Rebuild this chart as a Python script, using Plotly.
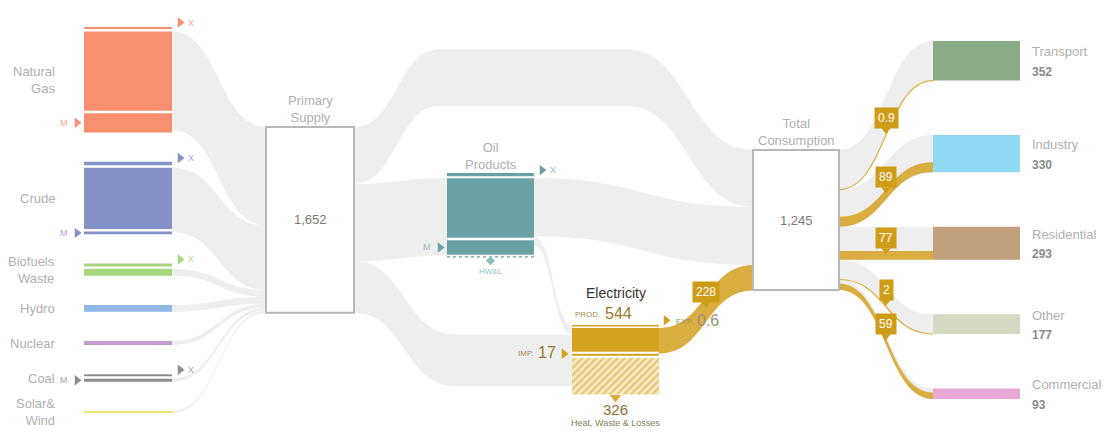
import plotly.graph_objects as go

# ---------------- data ----------------
source_names = ["Natural<br>Gas", "Crude", "Biofuels<br>Waste", "Hydro", "Nuclear", "Coal", "Solar&<br>Wind"]
source_production = [705, 545, 62, 61, 35, 0, 17]
source_imports = [172, 26, 0, 0, 0, 28, 0]
source_exports = [18, 32, 25, 0, 0, 14, 0]

primary_supply = 1652
ps_to_consumption = 505
ps_to_oil = 687
ps_to_electricity = 460

oil_production = 530
oil_imports = 130
oil_exports = 28
oil_to_consumption = 517
oil_to_electricity = 84

elec_production = 544
elec_imports = 17
elec_exports = 0.6
elec_to_consumption = 228
elec_losses = 326

total_consumption = 1245
sector_names = ["Transport", "Industry", "Residential", "Other", "Commercial"]
sector_totals = [352, 330, 293, 177, 93]
sector_electricity = [0.9, 89, 77, 2, 59]

# ---------------- styling / layout constants ----------------
W, H = 1116, 433
K = 0.1125  # pixels per unit
FONT = "Liberation Sans, Arial, sans-serif"
LABEL_GRAY = "#b0b0b0"
BAND_GRAY = "rgba(200,200,200,0.30)"
BOX_LINE = "#b8b8b8"
GOLD = "#d4a21c"
GOLD_FLOW = "#d9ad3f"
GOLD_LABEL = "#cf9c17"
TEAL = "#6aa1a5"
TEAL_TXT = "#8dbfc2"

source_colors = ["#f8906f", "#8591c9", "#a6d67d", "#8fb7e7", "#c59bd1", "#8e8e8e", "#eee36c"]
source_text_colors = ["#f6a88f", "#a0abd8", "#b9e09a", "#a9c8ee", "#d4b4dd", "#a5a5a5", "#f0e78c"]
sector_colors = ["#89ab86", "#8fd9f2", "#c1a07b", "#d6d9c2", "#e9a7d5"]

SRC_X0, SRC_X1 = 84, 172
PS_X0, PS_X1 = 266, 354
OP_X0, OP_X1 = 447, 534
EL_X0, EL_X1 = 572, 659
TC_X0, TC_X1 = 753, 839
SEC_X0, SEC_X1 = 933, 1020
SRC_TOP, SRC_BOTTOM = 27, 413
PS_TOP = 127
OP_TOP = 173
EL_TOP = 325
TC_TOP = 150
SEC_TOP, SEC_GAP = 41, 54.5
ROUTE_TOP = 49
SEG_GAP = 2.4
MIN_T = 2.0

fig = go.Figure()
shapes = []
annotations = []


def band_path(pts):
    x0, t0, b0 = pts[0]
    d = f"M{x0:.2f},{t0:.2f}"
    for (xa, ta, _), (xb, tb, _) in zip(pts[:-1], pts[1:]):
        xm = (xa + xb) / 2
        d += f" C{xm:.2f},{ta:.2f} {xm:.2f},{tb:.2f} {xb:.2f},{tb:.2f}"
    xn, tn, bn = pts[-1]
    d += f" L{xn:.2f},{bn:.2f}"
    rev = pts[::-1]
    for (xa, _, ba), (xb, _, bb) in zip(rev[:-1], rev[1:]):
        xm = (xa + xb) / 2
        d += f" C{xm:.2f},{ba:.2f} {xm:.2f},{bb:.2f} {xb:.2f},{bb:.2f}"
    return d + " Z"


def add_flow(pts, color):
    thick = pts[0][2] - pts[0][1]
    if thick < 1.6:
        c = [(x, (t + b) / 2) for x, t, b in pts]
        d = f"M{c[0][0]:.2f},{c[0][1]:.2f}"
        for (xa, ya), (xb, yb) in zip(c[:-1], c[1:]):
            xm = (xa + xb) / 2
            d += f" C{xm:.2f},{ya:.2f} {xm:.2f},{yb:.2f} {xb:.2f},{yb:.2f}"
        shapes.append(dict(type="path", path=d, xref="x", yref="y", layer="below",
                           line=dict(color=color, width=max(thick, 1.2)), fillcolor="rgba(0,0,0,0)"))
    else:
        shapes.append(dict(type="path", path=band_path(pts), xref="x", yref="y", layer="below",
                           line=dict(width=0), fillcolor=color))


def rect(x0, y0, x1, y1, fill, line=None, lw=0):
    shapes.append(dict(type="rect", x0=x0, x1=x1, y0=y0, y1=y1, xref="x", yref="y", layer="below",
                       fillcolor=fill, line=dict(color=line or fill, width=lw)))


def text(x, y, s, size=13, color=LABEL_GRAY, xanchor="center", align="center", bold=False):
    if bold:
        s = f"<b>{s}</b>"
    annotations.append(dict(x=x, y=y, xref="x", yref="y", text=s, showarrow=False,
                            font=dict(size=size, color=color, family=FONT),
                            xanchor=xanchor, yanchor="middle", align=align))


def marker(x, y, symbol, color, size=9):
    fig.add_trace(go.Scatter(x=[x], y=[y], mode="markers", hoverinfo="skip", showlegend=False,
                             marker=dict(symbol=symbol, color=color, size=size, line=dict(width=0))))


def gold_label(x, y, s):
    annotations.append(dict(x=x, y=y - 6, xref="x", yref="y", text=s, showarrow=False,
                            font=dict(size=12, color="white", family=FONT), bgcolor=GOLD_LABEL,
                            borderpad=3, xanchor="center", yanchor="bottom"))
    marker(x, y - 5, "triangle-down", GOLD_LABEL, 8)


# ---------------- sources ----------------
src_info = []
heights = []
for p, m, xv in zip(source_production, source_imports, source_exports):
    segs = [(k, v) for k, v in (("X", xv), ("P", p), ("M", m)) if v > 0]
    hs = [max(v * K, MIN_T) for _, v in segs]
    heights.append(sum(hs) + SEG_GAP * (len(hs) - 1))
    src_info.append((segs, hs))
src_gap = (SRC_BOTTOM - SRC_TOP - sum(heights)) / (len(heights) - 1)

y = SRC_TOP
ps_y = PS_TOP
src_geom = []
for i, (segs, hs) in enumerate(src_info):
    top = y
    cur = y
    seg_pos = {}
    for (kind, v), h in zip(segs, hs):
        seg_pos[kind] = (cur, cur + h)
        cur += h + SEG_GAP
    flow = source_production[i] + source_imports[i]
    ftop = seg_pos.get("P", seg_pos.get("M"))[0]
    fh = flow * K
    add_flow([(SRC_X1, ftop, ftop + fh), (PS_X0, ps_y, ps_y + fh)], BAND_GRAY)
    ps_y += fh
    src_geom.append((top, top + heights[i], seg_pos))
    y = top + heights[i] + src_gap

# primary supply outflows
ps_h = primary_supply * K
d_h = ps_to_consumption * K
o_h = ps_to_oil * K
e_h = ps_to_electricity * K
op_x_h = max(oil_exports * K, MIN_T)
op_main_top = OP_TOP + op_x_h + 2
op_main_h = oil_production * K
op_m_top = op_main_top + op_main_h + SEG_GAP
op_m_h = oil_imports * K
op_bottom = op_m_top + op_m_h

tc_h = total_consumption * K

# direct PS -> TC, routed over the oil products node
add_flow([(PS_X1, PS_TOP, PS_TOP + d_h),
          (440, ROUTE_TOP, ROUTE_TOP + d_h),
          (625, ROUTE_TOP, ROUTE_TOP + d_h),
          (TC_X0, TC_TOP, TC_TOP + d_h)], BAND_GRAY)
# PS -> Oil products
add_flow([(PS_X1, PS_TOP + d_h, PS_TOP + d_h + o_h),
          (OP_X0, op_main_top, op_main_top + o_h)], BAND_GRAY)
# Oil -> TC
ot_h = oil_to_consumption * K
add_flow([(OP_X1, op_main_top, op_main_top + ot_h),
          (TC_X0, TC_TOP + d_h, TC_TOP + d_h + ot_h)], BAND_GRAY)
# Oil -> Electricity
oe_h = oil_to_electricity * K
add_flow([(OP_X1, op_main_top + ot_h, op_main_top + ot_h + oe_h),
          (EL_X0, EL_TOP, EL_TOP + oe_h)], BAND_GRAY)
# PS -> Electricity
add_flow([(PS_X1, PS_TOP + d_h + o_h, PS_TOP + d_h + o_h + e_h),
          (455, EL_TOP + oe_h, EL_TOP + oe_h + e_h),
          (EL_X0, EL_TOP + oe_h, EL_TOP + oe_h + e_h)], BAND_GRAY)

# TC -> sectors (gray full band)
sec_geom = []
sy = SEC_TOP
ty = TC_TOP
for i, (tot, el) in enumerate(zip(sector_totals, sector_electricity)):
    h = tot * K
    add_flow([(TC_X1, ty, ty + h), (SEC_X0, sy, sy + h)], BAND_GRAY)
    sec_geom.append((sy, h, ty))
    ty += h
    sy += h + SEC_GAP

# Electricity -> TC (gold)
el_x_h = max(elec_exports * K, 1.5)
el_main_top = EL_TOP + el_x_h + 1.5
el_main_h = (elec_to_consumption - elec_imports) * K
el_imp_top = el_main_top + el_main_h + 2
el_imp_h = max(elec_imports * K, MIN_T)
el_loss_top = el_imp_top + el_imp_h + 2
el_loss_h = elec_losses * K
ec_h = elec_to_consumption * K
tc_e_top = TC_TOP + d_h + ot_h
add_flow([(EL_X1, el_main_top, el_main_top + ec_h), (TC_X0, tc_e_top, tc_e_top + ec_h)], GOLD_FLOW)

gold_mids = []
for i, (tot, el) in enumerate(zip(sector_totals, sector_electricity)):
    sy, h, ty0 = sec_geom[i]
    g = el * K
    a0 = ty0 + tot * K - g
    a1 = sy + h - g
    add_flow([(TC_X1, a0, a0 + g), (SEC_X0, a1, a1 + g)], GOLD_FLOW)
    gold_mids.append(((TC_X1 + SEC_X0) / 2, (a0 + a1 + g) / 2))

# ---------------- nodes ----------------
for i, (segs, hs) in enumerate(src_info):
    top, bot, seg_pos = src_geom[i]
    for kind, (y0, y1) in seg_pos.items():
        rect(SRC_X0, y0, SRC_X1, y1, source_colors[i])
    cy = (top + bot) / 2
    text(57, cy, source_names[i], 13, LABEL_GRAY, xanchor="right", align="right")
    if "X" in seg_pos:
        xc = sum(seg_pos["X"]) / 2 - 5.5
        marker(SRC_X1 + 8, xc, "triangle-right", source_colors[i], 9)
        text(SRC_X1 + 19, xc, "X", 9, source_text_colors[i])
    if "M" in seg_pos:
        mc = sum(seg_pos["M"]) / 2
        marker(SRC_X0 - 7, mc, "triangle-right", source_colors[i], 9)
        text(SRC_X0 - 20, mc, "M", 9, source_text_colors[i])

# primary supply box
rect(PS_X0, PS_TOP, PS_X1, PS_TOP + ps_h, "white", BOX_LINE, 2)
text((PS_X0 + PS_X1) / 2, PS_TOP - 18, "Primary<br>Supply", 13, LABEL_GRAY)
text((PS_X0 + PS_X1) / 2, PS_TOP + ps_h / 2, f"{primary_supply:,}", 13, "#7a7a7a")

# oil products
rect(OP_X0, OP_TOP, OP_X1, OP_TOP + op_x_h, TEAL)
rect(OP_X0, op_main_top, OP_X1, op_main_top + op_main_h, TEAL)
rect(OP_X0, op_m_top, OP_X1, op_bottom, TEAL)
shapes.append(dict(type="line", x0=OP_X0, x1=OP_X1, y0=op_bottom + 2, y1=op_bottom + 2, xref="x", yref="y",
                   line=dict(color=TEAL, width=1.2, dash="dot"), layer="below"))
text((OP_X0 + OP_X1) / 2, OP_TOP - 17, "Oil<br>Products", 13, LABEL_GRAY)
marker(OP_X1 + 8, OP_TOP + op_x_h / 2 - 4.5, "triangle-right", TEAL, 9)
text(OP_X1 + 19, OP_TOP + op_x_h / 2 - 4.5, "X", 9, TEAL_TXT)
marker(OP_X0 - 7, op_m_top + op_m_h / 2, "triangle-right", TEAL, 9)
text(OP_X0 - 20, op_m_top + op_m_h / 2, "M", 9, TEAL_TXT)
marker((OP_X0 + OP_X1) / 2, op_bottom + 6, "diamond", "#8dbfc2", 7)
text((OP_X0 + OP_X1) / 2, op_bottom + 17, "HW&amp;L", 8, TEAL_TXT)

# electricity
rect(EL_X0, EL_TOP, EL_X1, EL_TOP + el_x_h, GOLD)
rect(EL_X0, el_main_top, EL_X1, el_main_top + el_main_h, GOLD)
rect(EL_X0, el_imp_top, EL_X1, el_imp_top + el_imp_h, GOLD)
fig.add_trace(go.Scatter(
    x=[EL_X0, EL_X1, EL_X1, EL_X0, EL_X0],
    y=[el_loss_top, el_loss_top, el_loss_top + el_loss_h, el_loss_top + el_loss_h, el_loss_top],
    mode="lines", fill="toself", line=dict(width=0), hoverinfo="skip", showlegend=False,
    fillcolor="#f8eccb",
    fillpattern=dict(shape="/", fgcolor="#d6a524", bgcolor="#f8eccb", size=5, solidity=0.5)))
el_cx = (EL_X0 + EL_X1) / 2
marker(el_cx, el_loss_top + el_loss_h + 3, "triangle-down", "#d9ab3a", 10)
text(el_cx, EL_TOP - 32, "Electricity", 14, "#333333")
text(EL_X0 + 15, EL_TOP - 11, "PROD.", 8, "#a38b52")
text(EL_X0 + 46, EL_TOP - 12, f"{elec_production:,}", 16, "#9a7a2a")
imp_c = el_imp_top + el_imp_h / 2
marker(EL_X0 - 8, imp_c - 1, "triangle-right", GOLD, 9)
text(EL_X0 - 25, imp_c - 2, f"{elec_imports}", 16, "#9a7a2a")
text(EL_X0 - 47, imp_c - 1, "IMP.", 8, "#a38b52")
exp_c = EL_TOP + el_x_h / 2 - 5.5
marker(EL_X1 + 7, exp_c, "triangle-right", GOLD, 9)
text(EL_X1 + 25, exp_c + 1, "EXP.", 8, "#9c8f66")
text(EL_X1 + 49, exp_c, f"{elec_exports}", 16, "#9a9276")
text(el_cx, el_loss_top + el_loss_h + 15, f"{elec_losses}", 15, "#8a6c32")
text(el_cx, el_loss_top + el_loss_h + 29, "Heat, Waste &amp; Losses", 9, "#8a7a55")

# total consumption
rect(TC_X0, TC_TOP, TC_X1, TC_TOP + tc_h, "white", BOX_LINE, 2)
text((TC_X0 + TC_X1) / 2, TC_TOP - 18, "Total<br>Consumption", 13, LABEL_GRAY)
text((TC_X0 + TC_X1) / 2, TC_TOP + tc_h / 2, f"{total_consumption:,}", 13, "#7a7a7a")

# sectors
for i, (sy, h, _) in enumerate(sec_geom):
    rect(SEC_X0, sy, SEC_X1, sy + h, sector_colors[i])
    cy = sy + h / 2
    text(SEC_X1 + 10, cy - 9, sector_names[i], 13, LABEL_GRAY, xanchor="left", align="left")
    text(SEC_X1 + 10, cy + 11, f"{sector_totals[i]}", 12, "#8a8a8a", xanchor="left", align="left", bold=True)

# gold value labels
ex, ey = (EL_X1 + TC_X0) / 2, ((el_main_top + ec_h / 2) + (tc_e_top + ec_h / 2)) / 2
gold_label(ex, ey, f"{elec_to_consumption}")
for (mx, my), v in zip(gold_mids, sector_electricity):
    gold_label(mx, my, f"{v:g}")

fig.update_layout(
    width=W, height=H, autosize=False,
    margin=dict(l=0, r=0, t=0, b=0),
    paper_bgcolor="white", plot_bgcolor="white",
    xaxis=dict(range=[0, W], visible=False, fixedrange=True),
    yaxis=dict(range=[H, 0], visible=False, fixedrange=True),
    shapes=shapes, annotations=annotations, showlegend=False,
    font=dict(family=FONT),
)
fig.write_html("out.html", config={"displayModeBar": False},
               post_script="document.body.style.margin='0';")
